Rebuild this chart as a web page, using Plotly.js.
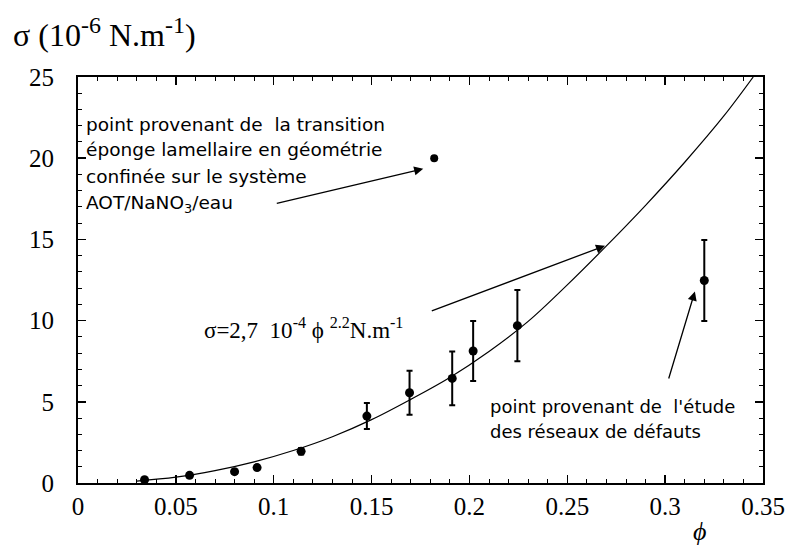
<!DOCTYPE html>
<html>
<head>
<meta charset="utf-8">
<script src="https://cdn.plot.ly/plotly-3.0.1.min.js"></script>
<style>html,body{margin:0;padding:0;background:#fff;}#chart{width:793px;height:551px;}</style>
</head>
<body>
<div id="chart"></div>
<script>
// Measured points (phi, sigma in 1e-6 N/m) with error bars
const phi = [0.034, 0.057, 0.080, 0.0915, 0.114, 0.1476, 0.1694, 0.1912, 0.2019, 0.2245, 0.320];
const sigma = [0.2, 0.47, 0.7, 0.95, 1.95, 4.12, 5.56, 6.44, 8.13, 9.69, 12.47];
const sigmaErr = [0.1, 0.12, 0.12, 0.15, 0.2, 0.8, 1.35, 1.65, 1.85, 2.2, 2.5];

// Point from the sponge-lamellar transition
const phiSponge = [0.182];
const sigmaSponge = [20];

// Fit curve
const phiFit = [0.03, 0.05, 0.07, 0.09, 0.11, 0.13, 0.15, 0.17, 0.19, 0.21, 0.23, 0.25, 0.27, 0.29, 0.31, 0.33, 0.345];
const sigmaFit = [0.12, 0.36, 0.76, 1.3, 2.0, 2.85, 3.9, 5.15, 6.5, 8.1, 9.95, 12.2, 14.6, 17.1, 19.75, 22.6, 25.0];

// Axis ticks
const xTickVals = [0, 0.05, 0.1, 0.15, 0.2, 0.25, 0.3, 0.35];
const xTickText = ['0', '0.05', '0.1', '0.15', '0.2', '0.25', '0.3', '0.35'];
const yTickVals = [0, 5, 10, 15, 20, 25];
const yTickText = ['0', '5', '10', '15', '20', '25'];

// Annotation texts
const noteSponge = ['point provenant de  la transition', 'éponge lamellaire en géométrie', 'confinée sur le système', 'AOT/NaNO<sub>3</sub>/eau'];
const noteDefects = ['point provenant de  l\'étude', 'des réseaux de défauts'];

const serif = '"Liberation Serif", "Times New Roman", serif';
const sans = '"DejaVu Sans", sans-serif';

const traces = [
  {x: phiFit, y: sigmaFit, mode: 'lines', line: {color: '#000', width: 1.2, shape: 'spline', smoothing: 1}, hoverinfo: 'skip', showlegend: false},
  {x: phi, y: sigma, mode: 'markers', marker: {color: '#000', size: 9, symbol: 'circle'},
   error_y: {type: 'data', array: sigmaErr, visible: true, color: '#000', thickness: 2, width: 3},
   showlegend: false},
  {x: phiSponge, y: sigmaSponge, mode: 'markers', marker: {color: '#000', size: 8}, showlegend: false}
];

const annotations = [
  {xref: 'paper', yref: 'paper', x: -0.098, y: 1.11, xanchor: 'left', yanchor: 'middle', showarrow: false,
   text: 'σ (10<sup><span style="font-size:24px">-6</span></sup> N.m<sup><span style="font-size:24px">-1</span></sup>)',
   font: {family: serif, size: 32, color: '#000'}},
  {xref: 'paper', yref: 'paper', x: 0.907, y: -0.12, xanchor: 'center', yanchor: 'middle', showarrow: false,
   text: '<i>ϕ</i>', font: {family: serif, size: 26, color: '#000'}},
  {xref: 'x', yref: 'y', x: 0.0635, y: 9.5, xanchor: 'left', yanchor: 'middle', showarrow: false,
   text: 'σ=2,7  10<sup>-4</sup> ϕ <sup>2.2</sup>N.m<sup>-1</sup>', font: {family: serif, size: 23, color: '#000'}},
  {xref: 'x', yref: 'y', axref: 'x', ayref: 'y', x: 0.1764, y: 19.35, ax: 0.1008, ay: 17.2,
   showarrow: true, arrowhead: 2, arrowsize: 1.4, arrowwidth: 1.3, arrowcolor: '#000', text: ''},
  {xref: 'x', yref: 'y', axref: 'x', ayref: 'y', x: 0.2693, y: 14.61, ax: 0.18, ay: 10.56,
   showarrow: true, arrowhead: 2, arrowsize: 1.4, arrowwidth: 1.3, arrowcolor: '#000', text: ''},
  {xref: 'x', yref: 'y', axref: 'x', ayref: 'y', x: 0.3152, y: 11.79, ax: 0.3016, ay: 6.34,
   showarrow: true, arrowhead: 2, arrowsize: 1.4, arrowwidth: 1.3, arrowcolor: '#000', text: ''}
];
const spongeY = [22.1, 20.55, 18.9, 17.15];
noteSponge.forEach((t, i) => annotations.push({
  xref: 'x', yref: 'y', x: 0.003, y: spongeY[i], xanchor: 'left', yanchor: 'middle', showarrow: false,
  text: t, font: {family: sans, size: 18.5, color: '#000'}}));
const defectY = [4.69, 3.15];
noteDefects.forEach((t, i) => annotations.push({
  xref: 'x', yref: 'y', x: 0.2095, y: defectY[i], xanchor: 'left', yanchor: 'middle', showarrow: false,
  text: t, font: {family: sans, size: 18, color: '#000'}}));

const layout = {
  width: 793, height: 551,
  margin: {l: 78, r: 30, t: 77, b: 68},
  paper_bgcolor: '#fff', plot_bgcolor: '#fff',
  showlegend: false,
  font: {family: serif, size: 24, color: '#000'},
  xaxis: {
    range: [0, 0.35], tickmode: 'array', tickvals: xTickVals, ticktext: xTickText,
    showgrid: false, zeroline: false, showline: true, linecolor: '#000', linewidth: 2,
    mirror: 'ticks', ticks: 'inside', ticklen: 8, tickwidth: 1.5, tickcolor: '#000',
    tickfont: {family: serif, size: 25, color: '#000'},
    minor: {dtick: 0.01, ticks: 'inside', ticklen: 4, tickwidth: 1, tickcolor: '#000', showgrid: false}
  },
  yaxis: {
    range: [0, 25], tickmode: 'array', tickvals: yTickVals, ticktext: yTickText,
    showgrid: false, zeroline: false, showline: true, linecolor: '#000', linewidth: 2,
    mirror: 'ticks', ticks: 'inside', ticklen: 8, tickwidth: 1.5, tickcolor: '#000',
    ticklabelstandoff: 17,
    tickfont: {family: serif, size: 25, color: '#000'},
    minor: {dtick: 1, ticks: 'inside', ticklen: 4, tickwidth: 1, tickcolor: '#000', showgrid: false}
  },
  annotations: annotations
};

Plotly.newPlot('chart', traces, layout, {staticPlot: true, displayModeBar: false});
</script>
</body>
</html>
